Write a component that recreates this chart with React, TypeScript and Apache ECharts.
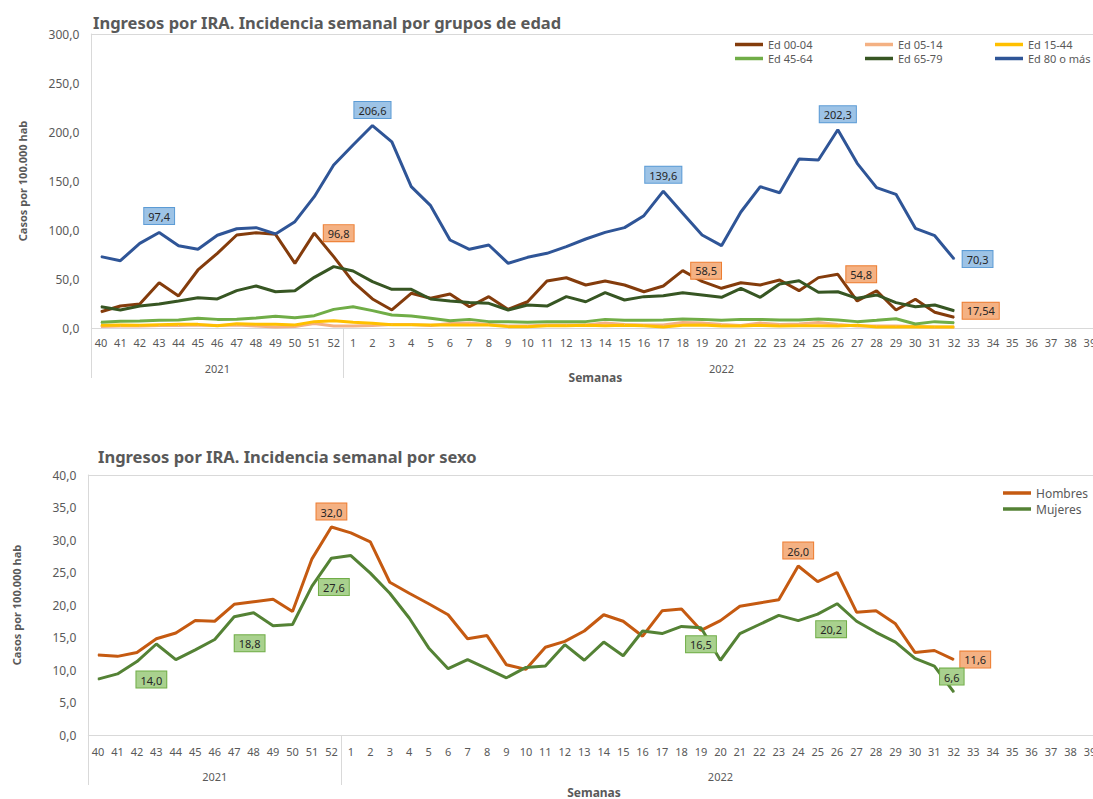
import React, { useEffect, useRef } from 'react';
import * as echarts from 'echarts';

const weeks2021 = ['40', '41', '42', '43', '44', '45', '46', '47', '48', '49', '50', '51', '52'];
const weeks2022 = ['1', '2', '3', '4', '5', '6', '7', '8', '9', '10', '11', '12', '13', '14', '15', '16', '17', '18', '19', '20',
  '21', '22', '23', '24', '25', '26', '27', '28', '29', '30', '31', '32', '33', '34', '35', '36', '37', '38', '39'];
const categories = [...weeks2021, ...weeks2022];
const yearGroups = [
  { label: '2021', weeks: weeks2021 },
  { label: '2022', weeks: weeks2022 },
];

const ed0004 = [16.6, 22.4, 24.5, 46.2, 32.7, 59.2, 76.2, 94.9, 97.3, 95.6, 66.0, 96.8, 72.8,
  47.0, 29.6, 18.4, 35.4, 30.3, 34.7, 21.7, 32.0, 19.0, 26.8, 48.0, 51.3, 43.9, 48.0, 43.9, 37.0, 42.9, 58.5,
  47.5, 40.5, 46.2, 43.9, 49.0, 38.1, 51.4, 54.8, 27.5, 38.0, 18.4, 29.3, 16.0, 10.9];
const ed0514 = [1.5, 2.0, 2.0, 2.5, 2.5, 3.0, 2.5, 3.0, 2.0, 1.0, 1.5, 4.5, 2.0,
  2.0, 2.5, 3.5, 3.5, 2.5, 4.5, 5.0, 3.5, 2.0, 2.0, 3.0, 3.0, 3.0, 5.0, 3.5, 3.0, 3.0, 5.5,
  5.0, 3.5, 2.5, 5.0, 3.5, 4.0, 5.5, 3.5, 2.0, 2.0, 2.0, 1.5, 1.0, 1.0];
const ed1544 = [2.7, 3.0, 2.7, 3.4, 3.7, 3.7, 2.4, 4.4, 3.7, 3.7, 3.0, 6.5, 7.5,
  5.8, 4.8, 3.4, 3.4, 3.0, 3.0, 3.0, 3.0, 1.4, 1.4, 2.4, 2.4, 2.7, 2.4, 2.7, 2.4, 1.0, 2.7,
  3.0, 2.0, 2.0, 2.7, 2.0, 2.4, 2.4, 2.0, 2.7, 1.0, 1.0, 1.4, 1.0, 1.0];
const ed4564 = [5.8, 6.8, 7.1, 7.8, 8.2, 9.9, 8.8, 9.0, 10.2, 11.9, 10.5, 12.6, 19.0,
  21.7, 17.7, 13.3, 12.2, 9.9, 7.5, 8.8, 6.5, 6.5, 5.8, 6.5, 6.5, 6.5, 8.8, 7.8, 7.8, 8.2, 9.2,
  8.8, 7.8, 8.8, 8.8, 8.2, 8.2, 9.2, 8.2, 6.5, 7.8, 9.5, 4.1, 6.5, 5.4];
const ed6579 = [21.7, 18.4, 22.4, 24.5, 27.6, 30.9, 29.6, 38.1, 42.9, 37.0, 38.1, 51.7, 62.6,
  58.2, 47.3, 39.5, 39.5, 29.6, 27.6, 25.9, 25.2, 18.4, 23.5, 22.4, 32.0, 26.8, 36.0, 28.6, 32.0, 33.0, 36.0,
  33.7, 31.3, 40.5, 31.3, 44.9, 48.3, 36.4, 37.0, 30.3, 33.7, 25.9, 21.7, 23.5, 17.54];
const ed80 = [72.8, 68.7, 86.4, 97.4, 84.0, 80.3, 94.6, 101.3, 102.4, 96.0, 108.5, 134.0, 166.3,
  186.7, 206.6, 190.0, 144.2, 124.8, 89.8, 80.3, 84.7, 66.0, 72.1, 76.2, 83.0, 90.8, 97.6, 102.4, 114.6, 139.6, 117.0,
  94.9, 84.0, 118.4, 144.2, 138.0, 172.4, 171.4, 202.3, 168.0, 143.2, 136.4, 101.7, 94.2, 70.3];

const hombres = [12.3, 12.1, 12.7, 14.8, 15.7, 17.6, 17.5, 20.1, 20.5, 20.9, 19.0, 27.1, 32.0,
  31.1, 29.7, 23.5, 21.8, 20.2, 18.5, 14.8, 15.3, 10.8, 10.1, 13.5, 14.4, 16.0, 18.5, 17.5, 15.2, 19.1, 19.4,
  16.1, 17.6, 19.8, 20.3, 20.8, 26.0, 23.6, 25.0, 18.9, 19.1, 17.1, 12.7, 13.0, 11.6];
const mujeres = [8.6, 9.4, 11.3, 14.0, 11.6, 13.1, 14.7, 18.2, 18.8, 16.8, 17.0, 22.9, 27.2,
  27.6, 24.9, 21.8, 18.0, 13.4, 10.2, 11.6, 10.2, 8.8, 10.4, 10.6, 13.9, 11.5, 14.3, 12.2, 16.0, 15.6, 16.7,
  16.5, 11.5, 15.6, 17.0, 18.4, 17.6, 18.6, 20.2, 17.5, 15.8, 14.3, 11.8, 10.6, 6.6];

const ageNames = ['Ed 00-04', 'Ed 05-14', 'Ed 15-44', 'Ed 45-64', 'Ed 65-79', 'Ed 80 o más'];
const ageData = [ed0004, ed0514, ed1544, ed4564, ed6579, ed80];
const ageColors = ['#843c0c', '#f4b183', '#ffc000', '#70ad47', '#375623', '#2f5597'];
const sexNames = ['Hombres', 'Mujeres'];
const sexData = [hombres, mujeres];
const sexColors = ['#c55a11', '#548235'];

const boxes: Record<string, { bg: string; border: string }> = {
  blue: { bg: '#9dc3e6', border: '#5b9bd5' },
  orange: { bg: '#f4b183', border: '#ed7d31' },
  green: { bg: '#a9d18e', border: '#70ad47' },
};

const topLabels = [
  { series: 'Ed 80 o más', week: '43', position: 'top', distance: 8, offset: [0, 0], box: 'blue' },
  { series: 'Ed 80 o más', week: '2', position: 'top', distance: 7, offset: [0, 0], box: 'blue' },
  { series: 'Ed 80 o más', week: '17', position: 'top', distance: 8, offset: [0, 0], box: 'blue' },
  { series: 'Ed 80 o más', week: '26', position: 'top', distance: 7, offset: [0, 0], box: 'blue' },
  { series: 'Ed 80 o más', week: '32', position: 'right', distance: 8, offset: [0, 0], box: 'blue' },
  { series: 'Ed 00-04', week: '51', position: 'right', distance: 9, offset: [0, 0], box: 'orange' },
  { series: 'Ed 00-04', week: '18', position: 'right', distance: 8, offset: [0, 0], box: 'orange' },
  { series: 'Ed 00-04', week: '26', position: 'right', distance: 8, offset: [0, 0], box: 'orange' },
  { series: 'Ed 65-79', week: '32', position: 'right', distance: 8, offset: [0, 0], box: 'orange' },
];
const bottomLabels = [
  { series: 'Hombres', week: '52', position: 'top', distance: 7, offset: [0, 0], box: 'orange' },
  { series: 'Hombres', week: '24', position: 'top', distance: 7, offset: [0, 0], box: 'orange' },
  { series: 'Hombres', week: '32', position: 'right', distance: 6, offset: [0, 0], box: 'orange' },
  { series: 'Mujeres', week: '43', position: 'bottom', distance: 27, offset: [-5, 0], box: 'green' },
  { series: 'Mujeres', week: '48', position: 'bottom', distance: 22, offset: [-4, 0], box: 'green' },
  { series: 'Mujeres', week: '1', position: 'bottom', distance: 23, offset: [-17, 0], box: 'green' },
  { series: 'Mujeres', week: '19', position: 'bottom', distance: 8, offset: [0, 0], box: 'green' },
  { series: 'Mujeres', week: '26', position: 'bottom', distance: 17, offset: [-6, 0], box: 'green' },
  { series: 'Mujeres', week: '32', position: 'top', distance: 7, offset: [-2, 0], box: 'green' },
];

const FONT = "'Noto Sans', 'Open Sans', sans-serif";
const GRAY = '#595959';
const LINE = '#d9d9d9';

const fmtNum = (v: number) => {
  const s = Math.round(v * 10) / 10 === v ? v.toFixed(1) : v.toFixed(2);
  return s.replace('.', ',');
};

function buildSeries(name: string, data: number[], color: string, axis: number, labels: any[]) {
  return {
    type: 'line',
    name,
    xAxisIndex: axis * 3,
    yAxisIndex: axis,
    symbol: 'circle',
    symbolSize: 1,
    showAllSymbol: true,
    itemStyle: { color },
    lineStyle: { color, width: 3 },
    emphasis: { disabled: true },
    data: data.map((v, i) => {
      const l = labels.find((x) => x.series === name && categories.indexOf(x.week) === i);
      if (!l) return v;
      const b = boxes[l.box];
      return {
        value: v,
        label: {
          show: true,
          position: l.position,
          distance: l.distance,
          offset: l.offset,
          formatter: (p: any) => fmtNum(p.value),
          color: '#262626',
          fontSize: 11,
          fontFamily: FONT,
          backgroundColor: b.bg,
          borderColor: b.border,
          borderWidth: 1,
          padding: [3, 4, 2, 4],
        },
      };
    }),
  };
}

function xAxes(grid: number, nameGap: number, labelMargin: number, yearMargin: number) {
  const split = weeks2021.length;
  return [
    {
      type: 'category', gridIndex: grid, data: categories, position: 'bottom', boundaryGap: true,
      axisLine: { show: true, lineStyle: { color: LINE, width: 1 } },
      axisTick: { show: true, length: 50, interval: (i: number) => i === 0 || i === split, lineStyle: { color: LINE } },
      axisLabel: { interval: 0, color: GRAY, fontSize: 11, fontFamily: FONT, margin: labelMargin },
      name: 'Semanas', nameLocation: 'middle', nameGap,
      nameTextStyle: { color: GRAY, fontSize: 12, fontWeight: 'bold', fontFamily: FONT },
      splitLine: { show: false },
    },
    {
      type: 'category', gridIndex: grid, data: categories, position: 'bottom', boundaryGap: true,
      axisLine: { show: false }, axisTick: { show: false }, splitLine: { show: false },
      axisLabel: {
        interval: 0, color: GRAY, fontSize: 11, fontFamily: FONT, margin: yearMargin,
        formatter: (_v: string, i: number) => {
          let start = 0;
          for (const g of yearGroups) {
            const center = start + Math.floor((g.weeks.length - 1) / 2);
            if (i === center) return g.label;
            start += g.weeks.length;
          }
          return '';
        },
      },
    },
    {
      type: 'category', gridIndex: grid, data: categories, position: 'top', boundaryGap: true,
      axisLine: { show: true, lineStyle: { color: LINE, width: 1 } },
      axisTick: { show: false }, axisLabel: { show: false }, splitLine: { show: false },
    },
  ];
}

function yAxis(grid: number, max: number, interval: number, nameGap: number) {
  return {
    type: 'value', gridIndex: grid, min: 0, max, interval,
    axisLine: { show: true, lineStyle: { color: LINE, width: 1 } },
    axisTick: { show: false },
    splitLine: { show: false },
    axisLabel: { color: GRAY, fontSize: 12, fontFamily: FONT, margin: 12, formatter: (v: number) => v.toFixed(1).replace('.', ',') },
    name: 'Casos por 100.000 hab', nameLocation: 'middle', nameGap, nameRotate: 90,
    nameTextStyle: { color: GRAY, fontSize: 11, fontWeight: 'bold', fontFamily: FONT },
  };
}

export default function App() {
  const ref = useRef<HTMLDivElement>(null);
  useEffect(() => {
    if (!ref.current) return;
    const chart = echarts.init(ref.current, null, { renderer: 'svg' });
    const series: any[] = [];
    ageNames.forEach((n, k) => series.push(buildSeries(n, ageData[k], ageColors[k], 0, topLabels)));
    sexNames.forEach((n, k) => series.push(buildSeries(n, sexData[k], sexColors[k], 1, bottomLabels)));
    const colLeft = [730, 860, 990];
    const ageLegends = colLeft.map((left, c) => ({
      icon: 'rect', itemWidth: 28, itemHeight: 3.5, itemGap: 3, orient: 'vertical', left, top: 34,
      textStyle: { color: GRAY, fontSize: 11, fontFamily: FONT },
      data: [ageNames[c], ageNames[c + 3]],
    }));
    chart.setOption({
      animation: false,
      backgroundColor: '#fff',
      title: [
        { text: 'Ingresos por IRA. Incidencia semanal por grupos de edad', left: 88, top: 9,
          textStyle: { color: GRAY, fontSize: 16.5, fontWeight: 'bold', fontFamily: FONT } },
        { text: 'Ingresos por IRA. Incidencia semanal por sexo', left: 93, top: 443,
          textStyle: { color: GRAY, fontSize: 16.5, fontWeight: 'bold', fontFamily: FONT } },
      ],
      legend: [
        ...ageLegends,
        { icon: 'rect', itemWidth: 28, itemHeight: 3.5, itemGap: 4, orient: 'vertical', left: 998, top: 482,
          textStyle: { color: GRAY, fontSize: 12, fontFamily: FONT }, data: sexNames },
      ],
      grid: [
        { left: 91.3, top: 34, width: 52 * 19.39, height: 294 },
        { left: 88.3, top: 475, width: 52 * 19.45, height: 260.7 },
      ],
      xAxis: [...xAxes(0, 43, 9, 35), ...xAxes(1, 51, 11, 36)],
      yAxis: [yAxis(0, 300, 50, 63), yAxis(1, 40, 5, 66)],
      series,
    });
    return () => chart.dispose();
  }, []);
  return (
    <div style={{ position: 'fixed', left: 0, top: 0, width: 1093, height: 799, overflow: 'hidden', background: '#fff' }}>
      <div ref={ref} style={{ width: 1110, height: 799 }} />
    </div>
  );
}
